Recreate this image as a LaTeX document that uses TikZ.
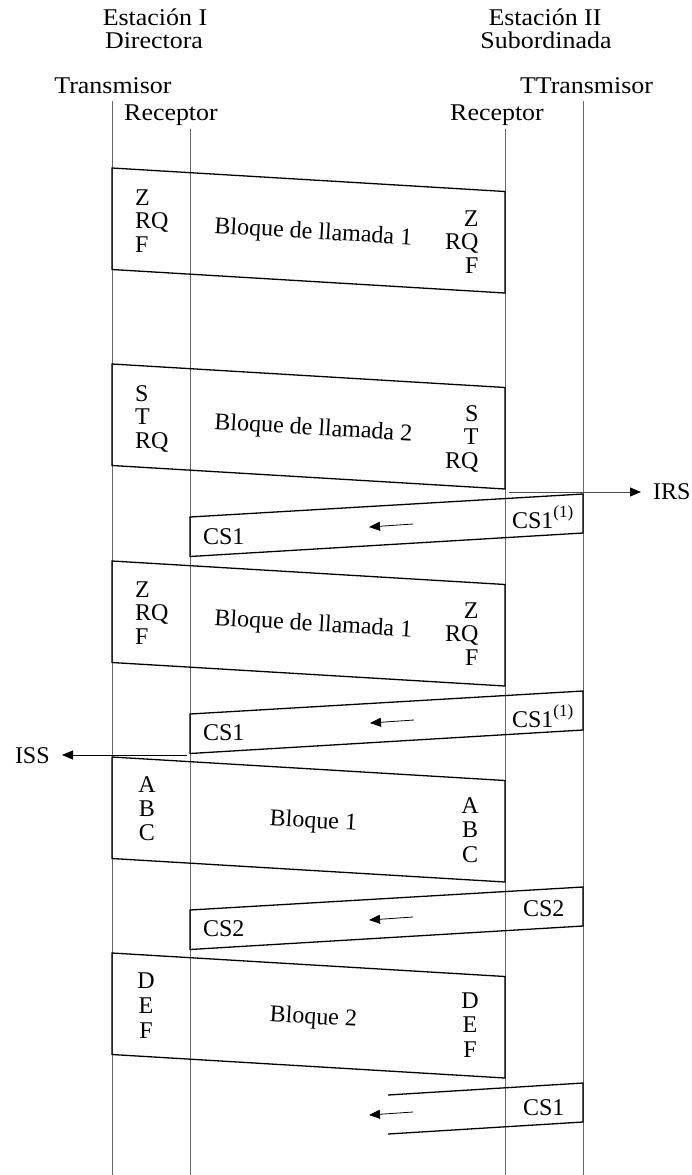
\documentclass[tikz,border=0pt]{standalone}
\usepackage{fontspec}
\setmainfont{Liberation Serif}
\newfontfamily\hdfont[FakeStretch=1.08]{Liberation Serif}
\usetikzlibrary{arrows.meta}
\newcommand\colnodes[6]{%
  \foreach \t [count=\i] in {#6} {\node[lbl,anchor=#5] (#1\i) at (#2,{#3+(\i-1)*#4}) {\t};}}
\newcommand\bigblock[2]{%
  \draw[blk] (112,#2) coordinate (#1tl) -- (505,#2+23.5) coordinate (#1tr)
    -- (505,#2+125) coordinate (#1br) -- (112,#2+101.5) coordinate (#1bl) -- cycle;}
\newcommand\csblock[2]{%
  \draw[blk] (583,#2) coordinate (#1tr) -- (190,#2+23) coordinate (#1tl)
    -- (190,#2+62.5) coordinate (#1bl) -- (583,#2+39) coordinate (#1br) -- cycle;}
\newcommand\supone{\raisebox{11pt}{\fontsize{17}{18}\selectfont(1)}}
\begin{document}
\begin{tikzpicture}[x=1pt,y=-1pt,
  vline/.style={draw=black!60,line width=0.9pt},
  blk/.style={draw=black,line width=1.3pt,line join=miter},
  lbl/.style={inner sep=0pt,outer sep=0pt,font=\fontsize{24}{26}\selectfont},
  hdr/.style={inner sep=0pt,outer sep=0pt,font=\hdfont\fontsize{24}{26}\selectfont,anchor=base},
  sigarr/.style={draw=black,line width=0.8pt,-{Triangle[length=11pt,width=9pt,color=black]}},
  evarr/.style={draw=black!70,line width=0.9pt,-{Triangle[length=11pt,width=9pt,color=black]}}
]
\useasboundingbox (0,0) rectangle (692,1175);

% headers
\node[hdr] (st1) at (155,25) {Estación I};
\node[hdr] (st1b) at (154,48) {Directora};
\node[hdr] (st2) at (545,25) {Estación II};
\node[hdr] (st2b) at (546,48) {Subordinada};
\node[hdr] (tx1) at (113,93) {Transmisor};
\node[hdr,anchor=base east] (tx2) at (653,93) {TTransmisor};
\node[hdr] (rx1) at (171,120) {Receptor};
\node[hdr] (rx2) at (497,120) {Receptor};

% vertical lines
\coordinate (T1a) at (112,101); \coordinate (T1b) at (112,1175);
\coordinate (R1a) at (190,129); \coordinate (R1b) at (190,1175);
\coordinate (R2a) at (505,129); \coordinate (R2b) at (505,1175);
\coordinate (T2a) at (583,101); \coordinate (T2b) at (583,1175);
\draw[vline] (T1a) -- (T1b);
\draw[vline] (R1a) -- (R1b);
\draw[vline] (R2a) -- (R2b);
\draw[vline] (T2a) -- (T2b);

% block 1
\bigblock{b1}{168}
\colnodes{b1l}{135}{205}{23.5}{base west}{Z,RQ,F}
\colnodes{b1r}{478.5}{226}{23.5}{base east}{Z,RQ,F}
\node[lbl,anchor=base,rotate=-3.4] (b1c) at (313,239) {Bloque de llamada 1};

% block 2
\bigblock{b2}{364}
\colnodes{b2l}{135}{401}{23.5}{base west}{S,T,RQ}
\colnodes{b2r}{478.5}{421}{23.5}{base east}{S,T,RQ}
\node[lbl,anchor=base,rotate=-3.4] (b2c) at (313,435) {Bloque de llamada 2};

% IRS
\coordinate (irsA) at (509,492); \coordinate (irsB) at (641,492);
\draw[evarr] (irsA) -- (irsB);
\node[lbl,anchor=base west] (irs) at (653,499) {IRS};

% CS1 (a)
\csblock{c1}{494}
\node[lbl,anchor=base west] (c1l) at (203,544) {CS1};
\node[lbl,anchor=base west] (c1r) at (512,528) {CS1\supone};
\coordinate (c1a) at (413,524); \coordinate (c1b) at (369,527);
\draw[sigarr] (c1a) -- (c1b);

% block 3
\bigblock{b3}{561}
\colnodes{b3l}{135}{597}{23.5}{base west}{Z,RQ,F}
\colnodes{b3r}{478.5}{618}{23.5}{base east}{Z,RQ,F}
\node[lbl,anchor=base,rotate=-3.4] (b3c) at (313,631) {Bloque de llamada 1};

% CS1 (b)
\csblock{c2}{691}
\node[lbl,anchor=base west] (c2l) at (203,740) {CS1};
\node[lbl,anchor=base west] (c2r) at (512,727) {CS1\supone};
\coordinate (c2a) at (414,720); \coordinate (c2b) at (370,723);
\draw[sigarr] (c2a) -- (c2b);

% ISS
\coordinate (issA) at (187,755); \coordinate (issB) at (62,755);
\draw[evarr,draw=black] (issA) -- (issB);
\node[lbl,anchor=base west] (iss) at (15,763) {ISS};

% block 4
\bigblock{b4}{757}
\colnodes{b4l}{147}{792}{24}{base}{A,B,C}
\colnodes{b4r}{470}{813}{24.5}{base}{A,B,C}
\node[lbl,anchor=base,rotate=-3.4] (b4c) at (313,828) {Bloque 1};

% CS2
\csblock{c3}{887}
\node[lbl,anchor=base west] (c3l) at (203,936) {CS2};
\node[lbl,anchor=base west] (c3r) at (523,916) {CS2};
\coordinate (c3a) at (413,917); \coordinate (c3b) at (369,920);
\draw[sigarr] (c3a) -- (c3b);

% block 5
\bigblock{b5}{953}
\colnodes{b5l}{146}{988}{25}{base}{D,E,F}
\colnodes{b5r}{470}{1008}{24.5}{base}{D,E,F}
\node[lbl,anchor=base,rotate=-3.4] (b5c) at (313,1024) {Bloque 2};

% final CS1 (open)
\coordinate (c4tl) at (388,1095); \coordinate (c4tr) at (583,1083);
\coordinate (c4br) at (583,1122); \coordinate (c4bl) at (388,1134);
\draw[blk] (c4tl) -- (c4tr) -- (c4br) -- (c4bl);
\node[lbl,anchor=base west] (c4r) at (523,1115) {CS1};
\coordinate (c4a) at (413,1112); \coordinate (c4b) at (369,1115);
\draw[sigarr] (c4a) -- (c4b);
\end{tikzpicture}
\end{document}
